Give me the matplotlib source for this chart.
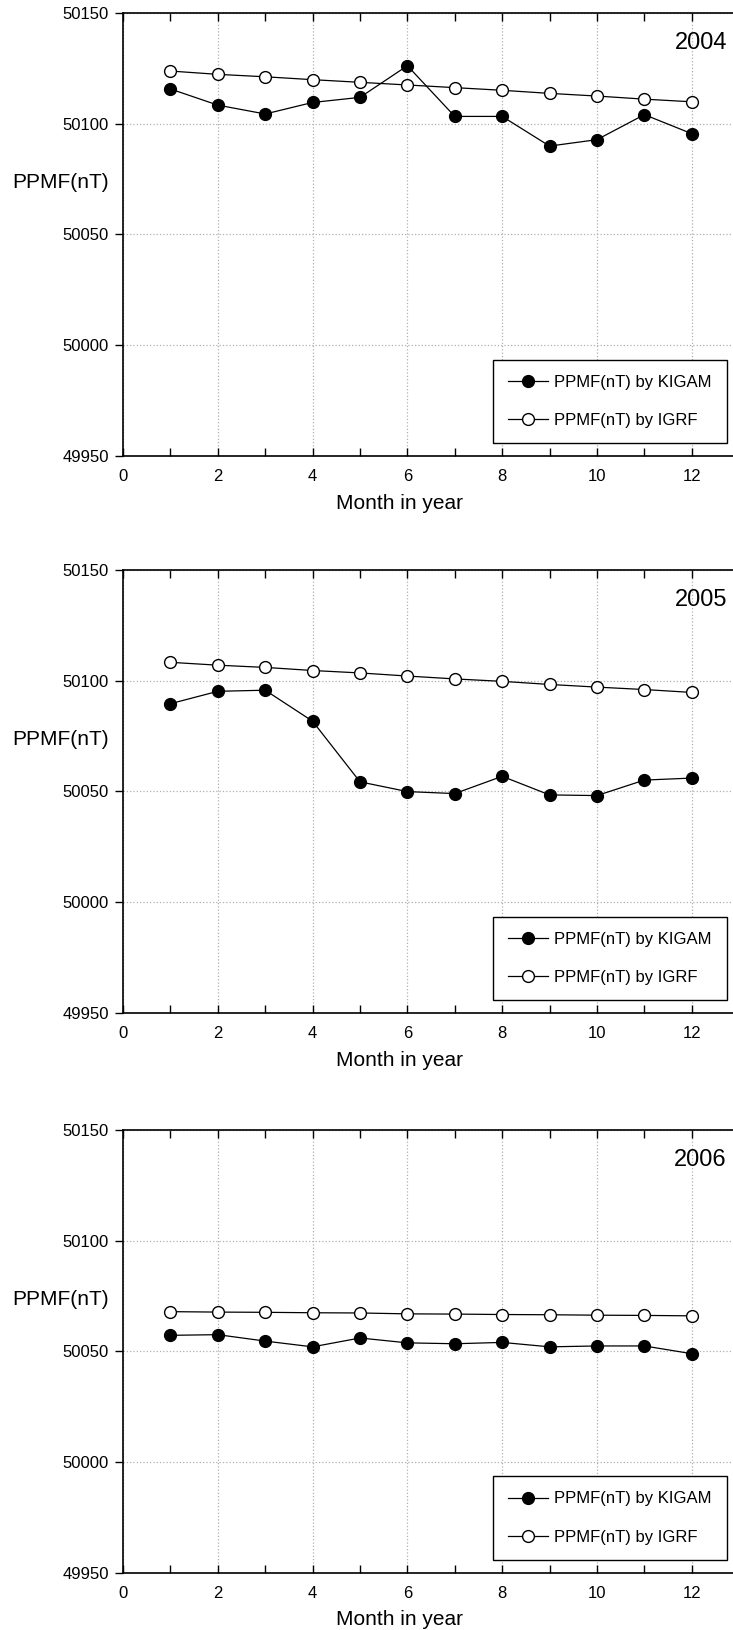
import numpy as np
import matplotlib.pyplot as plt
from matplotlib.ticker import MultipleLocator

plt.rcParams['font.family'] = ['Liberation Sans', 'DejaVu Sans']

months = np.arange(1, 13)
years = ['2004', '2005', '2006']

# PPMF (nT)
kigam_2004 = [50115.7, 50108.4, 50104.4, 50109.6, 50111.9, 50126.2,
              50103.3, 50103.3, 50089.9, 50092.8, 50104.1, 50095.5]
igrf_2004 = [50123.8, 50122.3, 50121.2, 50119.9, 50118.7, 50117.5,
             50116.3, 50115.1, 50113.7, 50112.5, 50111.1, 50109.9]

kigam_2005 = [50089.6, 50095.2, 50095.7, 50081.7, 50054.3, 50049.9,
              50049.0, 50056.8, 50048.4, 50048.1, 50055.1, 50056.0]
igrf_2005 = [50108.3, 50107.0, 50106.0, 50104.6, 50103.5, 50102.1,
             50100.8, 50099.7, 50098.3, 50097.1, 50096.0, 50094.7]

kigam_2006 = [50057.2, 50057.5, 50054.6, 50052.0, 50056.0, 50053.8,
              50053.4, 50054.0, 50052.0, 50052.4, 50052.4, 50048.9]
igrf_2006 = [50067.9, 50067.7, 50067.6, 50067.4, 50067.3, 50066.9,
             50066.8, 50066.6, 50066.5, 50066.3, 50066.2, 50066.0]

kigam = [kigam_2004, kigam_2005, kigam_2006]
igrf = [igrf_2004, igrf_2005, igrf_2006]

fig = plt.figure(figsize=(7.33, 16.3), dpi=100)
bottoms = [0.7204, 0.3787, 0.0352]

for i in range(3):
    ax = fig.add_axes([0.1678, bottoms[i], 0.8322, 0.2716])

    ax.plot(months, kigam[i], '-o', color='black', lw=0.9, ms=8.5,
            mfc='black', mec='black', label='PPMF(nT) by KIGAM', zorder=3)
    ax.plot(months, igrf[i], '-o', color='black', lw=0.9, ms=8.5,
            mfc='white', mec='black', label='PPMF(nT) by IGRF', zorder=3)

    ax.set_xlim(0, 12.87)
    ax.set_ylim(49950, 50150)
    ax.set_xticks(np.arange(0, 13, 2))
    ax.xaxis.set_minor_locator(MultipleLocator(1))
    ax.set_yticks(np.arange(49950, 50151, 50))

    ax.tick_params(axis='x', which='both', direction='in', top=True,
                   length=6, width=1, labelsize=12, pad=9.5)
    ax.tick_params(axis='y', direction='out', length=6, width=1,
                   labelsize=12, pad=4)

    ax.spines['right'].set_visible(False)
    for s in ['left', 'bottom', 'top']:
        ax.spines[s].set_linewidth(1.2)

    ax.grid(True, which='major', linestyle=':', color='#b0b0b0', lw=0.9)
    ax.set_axisbelow(True)

    ax.set_ylabel('PPMF(nT)', rotation=0, fontsize=15, va='center', ha='center')
    ax.yaxis.set_label_coords(-0.103, 0.617)
    ax.set_xlabel('Month in year', fontsize=15, va='center')
    ax.xaxis.set_label_coords(0.454, -0.107)

    ax.text(0.99, 0.932, years[i], transform=ax.transAxes,
            ha='right', va='center', fontsize=17)

    leg = ax.legend(loc='lower right', bbox_to_anchor=(0.99, 0.029),
                    fontsize=12, frameon=True, fancybox=False,
                    edgecolor='black', framealpha=1, handlelength=2.4,
                    handletextpad=0.4, labelspacing=1.4, borderpad=0.9,
                    borderaxespad=0)
    leg.get_frame().set_linewidth(1.0)

fig.savefig('out.png', dpi=100)
